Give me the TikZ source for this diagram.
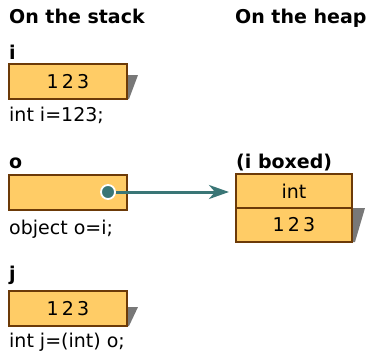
\documentclass[tikz,border=0pt]{standalone}
\usepackage{fontspec}
\setmainfont{DejaVu Sans}
\usepackage{tikz}
\usetikzlibrary{arrows.meta,positioning,calc}
\definecolor{cellfill}{RGB}{255,204,102}
\definecolor{cellline}{RGB}{108,58,8}
\definecolor{shadowgray}{RGB}{120,120,120}
\definecolor{pointer}{RGB}{58,118,118}

\begin{document}
\begin{tikzpicture}[x=1pt,y=-1pt,
  every node/.style={font=\fontsize{19}{21}\selectfont,inner sep=0pt},
  head/.style={anchor=base west,font=\fontsize{19}{21}\selectfont\bfseries},
  code/.style={anchor=base west},
  cell/.style={draw=cellline,fill=cellfill,line width=2pt,minimum width=118pt,minimum height=35pt},
  heapcell/.style={cell,minimum width=116pt,minimum height=34pt},
  shade/.style={fill=shadowgray,draw=none}]
  \useasboundingbox (0,0) rectangle (368,354);
  % headings
  \node[head] (stackhead) at (9,23) {On the stack};
  \node[head] (heaphead) at (235,23) {On the heap};
  % variable i
  \node[head] (ilabel) at (9,59) {i};
  \fill[shade] (127,75) -- (138,75) -- (129,99) -- (127,99) -- cycle;
  \node[cell] (ibox) at (68,81.5) {1\,2\,3};
  \node[code] (icode) at (9,121) {int i=123;};
  % variable o
  \node[head] (olabel) at (9,168) {o};
  \node[cell] (obox) at (68,192.5) {};
  \node[code] (ocode) at (9,234) {object o=i;};
  % boxed value on the heap
  \node[head] (boxedlabel) at (236,168) {(i boxed)};
  \fill[shade] (352,208) -- (365,208) -- (355,242) -- (352,242) -- cycle;
  \node[heapcell] (hint) at (294,191) {int};
  \node[heapcell] (hval) at (294,225) {1\,2\,3};
  % variable j
  \node[head] (jlabel) at (9,280) {j};
  \fill[shade] (127,307) -- (138,307) -- (129,326) -- (127,326) -- cycle;
  \node[cell] (jbox) at (68,308.5) {1\,2\,3};
  \node[code] (jcode) at (9,347) {int j=(int) o;};
  % reference from o to the boxed int
  \node[circle,fill=pointer,draw=white,line width=1.8pt,minimum size=14pt] (odot) at (108,192) {};
  \draw[pointer,line width=3pt,-{Stealth[length=20pt,width=14pt,inset=6pt]},shorten >=6pt]
    (odot.east) -- (odot -| hint.west);
\end{tikzpicture}
\end{document}
